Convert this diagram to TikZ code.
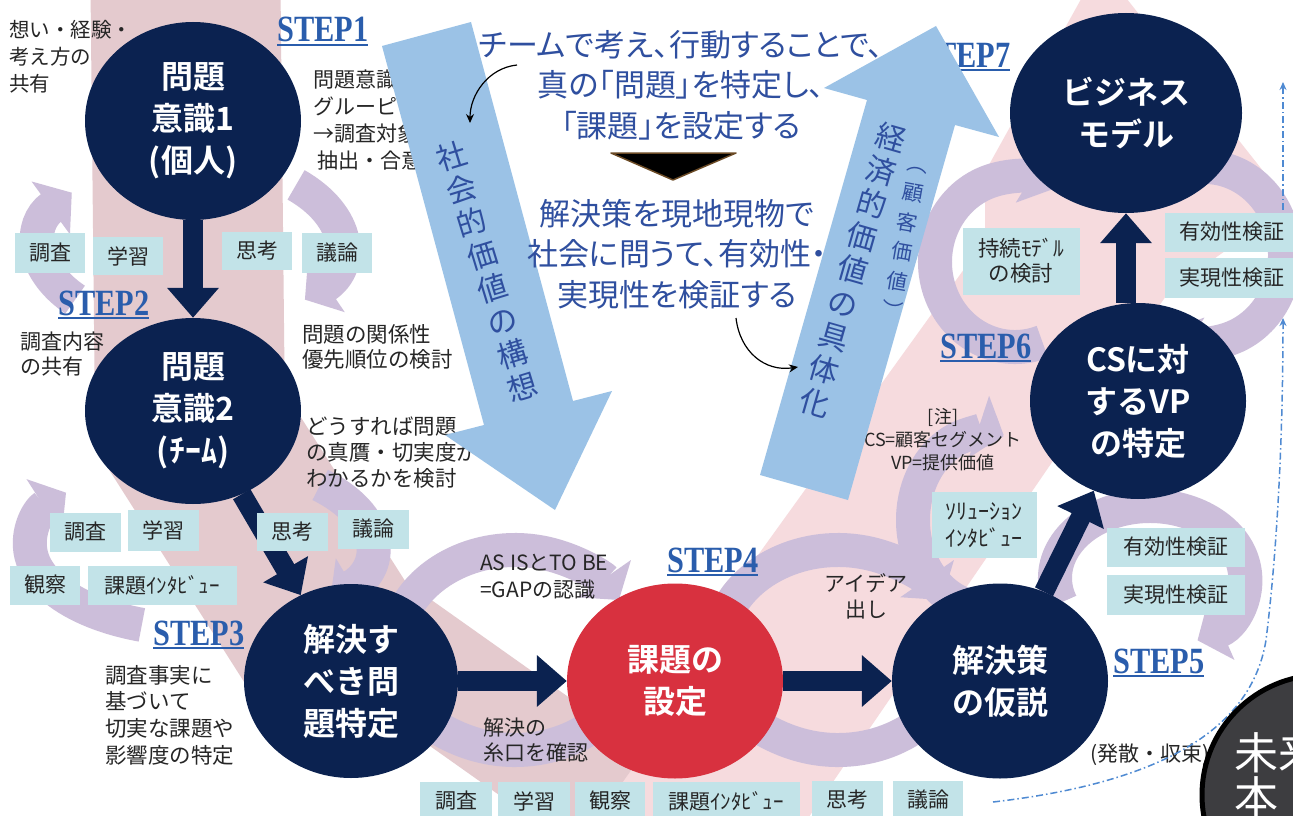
\documentclass[tikz,border=0pt]{standalone}
\usepackage{fontspec}
\usetikzlibrary{shapes.geometric,arrows.meta}
\setmainfont{Noto Sans CJK JP}
\newfontfamily\jp{Noto Sans CJK JP}
\newfontfamily\jpb{Noto Sans CJK JP Bold}
\newfontfamily\jpp{Noto Sans CJK JP}[RawFeature=+palt]
\newfontfamily\stepfnt{Liberation Serif}
\definecolor{navy}{HTML}{0B2250}
\definecolor{redc}{HTML}{D8313F}
\definecolor{boxc}{HTML}{C2E3E8}
\definecolor{bluearr}{HTML}{9BC2E6}
\definecolor{textblue}{HTML}{2F4F9F}
\definecolor{stepc}{HTML}{2A5DAC}
\definecolor{lav}{HTML}{CCBEDA}
\definecolor{pinkL}{HTML}{E4CACE}
\definecolor{pinkR}{HTML}{F6DBDE}
\definecolor{darkg}{HTML}{3D3D40}
\definecolor{ddc}{HTML}{4F8AD2}
\definecolor{tribrown}{HTML}{6B4A25}
\newcommand\lavarc[7][ringar]{\draw[#1] ([shift={(#2,#3)}]#6:#4 and #5) arc[start angle=#6,end angle=#7,x radius=#4,y radius=#5];}
\begin{document}
\begin{tikzpicture}[x=1pt,y=-1pt,
  circ/.style={ellipse, fill=navy, text=white, font=\jpb\fontsize{32}{42}\selectfont, align=center, inner sep=0pt},
  lbl/.style={font=\jp\fontsize{21}{26}\selectfont, align=left, inner sep=0pt, text=black!85, anchor=west},
  lbox/.style={fill=boxc, font=\jp\fontsize{21}{27}\selectfont, inner sep=0pt, align=center, text=black!85},
  stp/.style={font=\stepfnt\bfseries\fontsize{37}{37}\selectfont, text=stepc, inner sep=0pt, anchor=base west},
  stpline/.style={draw=stepc, line width=1.6pt},
  narr/.style={draw=navy, line width=20pt, -{Triangle[length=30pt,width=50pt]}},
  ring/.style={draw=lav, line width=34pt},
  ringar/.style={ring, -{Triangle[length=26pt,width=64pt]}},
  ctext/.style={font=\jpp\fontsize{31}{40.5}\selectfont, text=textblue, align=center, inner sep=0pt},
  vtext/.style={font=\jp\fontsize{30}{34.5}\selectfont, text=textblue, align=center, inner sep=0pt},
  vsmall/.style={font=\jp\fontsize{21}{30}\selectfont, text=textblue, align=center, inner sep=0pt},
  barr/.style={fill=bluearr},
  thinarr/.style={draw=black, line width=1.2pt, -{Stealth[length=9pt,width=8pt]}},
  dd/.style={draw=ddc, line width=1.5pt, dash pattern=on 7pt off 3pt on 1.5pt off 3pt, -{Stealth[length=8pt,width=7pt]}}
]
\useasboundingbox (0,0) rectangle (1293,816);
\clip (0,0) rectangle (1293,816);
\fill[white] (0,0) rectangle (1293,816);

% ---- pink background band
\fill[pinkR] (560,830) -- (985,240) -- (985,172) -- (1100,-35) -- (1290,205) -- (1170,290) -- (800,830) -- cycle;
\draw[pinkL, line width=190pt, line join=round] (185,-60) -- (190,420) -- (330,640);
\draw[pinkL, line width=120pt] (370,630) -- (610,800);

% ---- lavender cycles
\lavarc{190}{245}{150}{85}{140}{218}
\lavarc{190}{245}{150}{85}{-45}{40}
\lavarc{200}{545}{170}{85}{110}{218}
\lavarc{200}{545}{170}{85}{-45}{40}
\lavarc{515}{650}{120}{100}{195}{330}
\lavarc{515}{650}{120}{100}{15}{165}
\lavarc{838}{650}{120}{100}{195}{330}
\lavarc{838}{650}{120}{100}{15}{165}
\lavarc{985}{520}{72}{88}{100}{285}
\lavarc{1150}{578}{95}{72}{160}{420}
\lavarc{1015}{262}{80}{85}{70}{300}
\lavarc{1205}{255}{80}{88}{-110}{120}

% ---- black explanatory texts
\node[lbl, font=\jp\fontsize{20.5}{27}\selectfont] (t1) at (9,57) {想い・経験・\\考え方の\\共有};
\node[lbl, font=\jp\fontsize{21}{27}\selectfont] (t2) at (313,120) {問題意識\\グルーピ\\→調査対象\\\ 抽出・合意};
\node[lbl, font=\jp\fontsize{21}{25}\selectfont] (t3) at (20,354) {調査内容\\の共有};
\node[lbl, font=\jp\fontsize{21.5}{25}\selectfont] (t4) at (302,347) {問題の関係性\\優先順位の検討};
\node[lbl, font=\jp\fontsize{21.5}{26}\selectfont] (t5) at (306,453) {どうすれば問題\\の真贋・切実度が\\わかるかを検討};
\node[lbl, font=\jp\fontsize{21.5}{26.7}\selectfont] (t7) at (105,715) {調査事実に\\基づいて\\切実な課題や\\影響度の特定};
\node[lbl, font=\jp\fontsize{21}{27}\selectfont] (t8) at (480,577) {AS ISとTO BE\\=GAPの認識};
\node[lbl, font=\jp\fontsize{21}{25}\selectfont] (t9) at (483,740) {解決の\\糸口を確認};
\node[lbl, anchor=center, align=center, font=\jp\fontsize{21}{26}\selectfont] (t10) at (866,596) {アイデア\\出し};
\node[lbl, anchor=center, align=center, font=\jp\fontsize{18}{23}\selectfont] (t11) at (943,440) {[注]\\CS=顧客セグメント\\VP=提供価値};
\node[lbl, font=\jp\fontsize{21}{24}\selectfont] (t12) at (1090,755) {(発散・収束)};

% ---- STEP labels
\node[stp] (s1) at (277,42) {\scalebox{0.82}[1]{STEP1}};
\node[stp] (s2) at (58,315) {\scalebox{0.82}[1]{STEP2}};
\node[stp] (s3) at (153,645) {\scalebox{0.82}[1]{STEP3}};
\node[stp] (s4) at (667,572) {\scalebox{0.82}[1]{STEP4}};
\node[stp] (s5) at (1113,673) {\scalebox{0.82}[1]{STEP5}};
\node[stp] (s6) at (940,358) {\scalebox{0.82}[1]{STEP6}};
\node[stp] (s7) at (919,67) {\scalebox{0.82}[1]{STEP7}};
\foreach \s in {s1,s2,s3,s4,s5,s6,s7}{
  \draw[stpline] ([yshift=-3pt]\s.base west) -- ([yshift=-3pt]\s.base east);
}

% ---- big light-blue arrows
\fill[barr] (382,46) -- (471,22) -- (573,401) -- (612,391) -- (555,510) -- (445,435) -- (484,425) -- cycle;
\fill[barr] (760,475) -- (867,100) -- (824,88) -- (936,26) -- (999,137) -- (955,125) -- (848,500) -- cycle;
\node[vtext, rotate=17] (vt1) at (487,271) {社\\会\\的\\価\\値\\の\\構\\想};
\node[vtext, rotate=-16] (vt2) at (853,270) {経\\済\\的\\価\\値\\の\\具\\体\\化};
\node[vsmall, rotate=-10] (vt3) at (904,243) {︵\\顧\\客\\価\\値\\︶};

% ---- central statements
\node[ctext] (c1) at (681,85) {チームで考え、行動することで、\\真の「問題」を特定し、\\「課題」を設定する};
\draw[fill=black, draw=tribrown, line width=1.5pt, line join=round] (611,153) -- (736,153) -- (673,180) -- cycle;
\node[ctext] (c2) at (677,254) {解決策を現地現物で\\社会に問うて、有効性・\\実現性を検証する};
\coordinate (a1s) at (517,65);
\coordinate (a1e) at (470,123);
\draw[thinarr] (a1s) .. controls (488,68) and (470,95) .. (a1e);
\coordinate (a2s) at (736,318);
\coordinate (a2e) at (798,367);
\draw[thinarr] (a2s) .. controls (740,352) and (765,372) .. (a2e);

% ---- main circles
\node[circ, minimum width=216pt, minimum height=198pt] (n1) at (193,121) {問題\\意識1\\(個人)};
\node[circ, minimum width=216pt, minimum height=186pt] (n2) at (193,411) {問題\\意識2\\(ﾁｰﾑ)};
\node[circ, minimum width=214pt, minimum height=194pt] (n3) at (351,681) {解決す\\べき問\\題特定};
\node[circ, fill=redc, minimum width=216pt, minimum height=195pt] (n4) at (675,681) {課題の\\設定};
\node[circ, minimum width=216pt, minimum height=195pt] (n5) at (1000,681) {解決策\\の仮説};
\node[circ, minimum width=216pt, minimum height=196pt] (n6) at (1138,401) {CSに対\\するVP\\の特定};
\node[circ, minimum width=232pt, minimum height=200pt] (n7) at (1126,113) {ビジネス\\モデル};

\draw[narr] (n1) -- (n2);
\draw[narr] (n2) -- (n3);
\draw[narr] (n3) -- (n4);
\draw[narr] (n4) -- (n5);
\draw[narr] (n5) -- (n6);
\draw[narr] (n7 |- n6.north) -- (n7.south);

% ---- activity boxes
\node[lbox, minimum width=70pt, minimum height=40pt] (b1) at (50,253) {調査};
\node[lbox, minimum width=70pt, minimum height=38pt] (b2) at (128,256) {学習};
\node[lbox, minimum width=70pt, minimum height=38pt] (b3) at (257,251) {思考};
\node[lbox, minimum width=70pt, minimum height=40pt] (b4) at (337,253) {議論};
\node[lbox, minimum width=71pt, minimum height=39pt] (b5) at (85,532) {調査};
\node[lbox, minimum width=71pt, minimum height=41pt] (b6) at (163,530) {学習};
\node[lbox, minimum width=70pt, minimum height=39pt] (b7) at (45,585) {観察};
\node[lbox, minimum width=149pt, minimum height=39pt] (b8) at (162,585) {課題ｲﾝﾀﾋﾞｭｰ};
\node[lbox, minimum width=71pt, minimum height=38pt] (b9) at (292,532) {思考};
\node[lbox, minimum width=71pt, minimum height=39pt] (b10) at (373,529) {議論};
\node[lbox, minimum width=72pt, minimum height=38pt] (b11) at (456,801) {調査};
\node[lbox, minimum width=72pt, minimum height=38pt] (b12) at (534,801) {学習};
\node[lbox, minimum width=70pt, minimum height=38pt] (b13) at (610,801) {観察};
\node[lbox, minimum width=147pt, minimum height=38pt] (b14) at (726,801) {課題ｲﾝﾀﾋﾞｭｰ};
\node[lbox, minimum width=71pt, minimum height=38pt] (b15) at (847,800) {思考};
\node[lbox, minimum width=70pt, minimum height=38pt] (b16) at (928,800) {議論};
\node[lbox, minimum width=105pt, minimum height=66pt, font=\jp\fontsize{22}{27}\selectfont] (b17) at (984,525) {ｿﾘｭｰｼｮﾝ\\ｲﾝﾀﾋﾞｭｰ};
\node[lbox, minimum width=138pt, minimum height=39pt] (b18) at (1176,547) {有効性検証};
\node[lbox, minimum width=138pt, minimum height=40pt] (b19) at (1176,595) {実現性検証};
\node[lbox, minimum width=117pt, minimum height=67pt, font=\jp\fontsize{21.5}{25}\selectfont] (b20) at (1021,261) {持続ﾓﾃﾞﾙ\\の検討};
\node[lbox, minimum width=135pt, minimum height=39pt] (b21) at (1232,232) {有効性検証};
\node[lbox, minimum width=135pt, minimum height=40pt] (b22) at (1232,278) {実現性検証};

% ---- dash-dot feedback lines
\coordinate (d0) at (993,802);
\coordinate (d1) at (1283,318);
\coordinate (d2) at (1283,210);
\coordinate (d3) at (1283,82);
\draw[dd] (d0) .. controls (1140,785) and (1250,740) .. (1266,640) .. controls (1276,560) and (1283,450) .. (d1);
\draw[dd] (d2) -- (d3);

% ---- dark circle bottom right
\node[circle, fill=darkg, draw=black, line width=5pt, minimum size=240pt, inner sep=0pt] (mc) at (1322,795) {};
\node[anchor=west, text=white, font=\jp\fontsize{44}{48}\selectfont, inner sep=0pt] (m1) at (1234,753) {未来};
\node[anchor=west, text=white, font=\jp\fontsize{44}{48}\selectfont, inner sep=0pt] (m2) at (1234,797) {本};
\end{tikzpicture}
\end{document}
